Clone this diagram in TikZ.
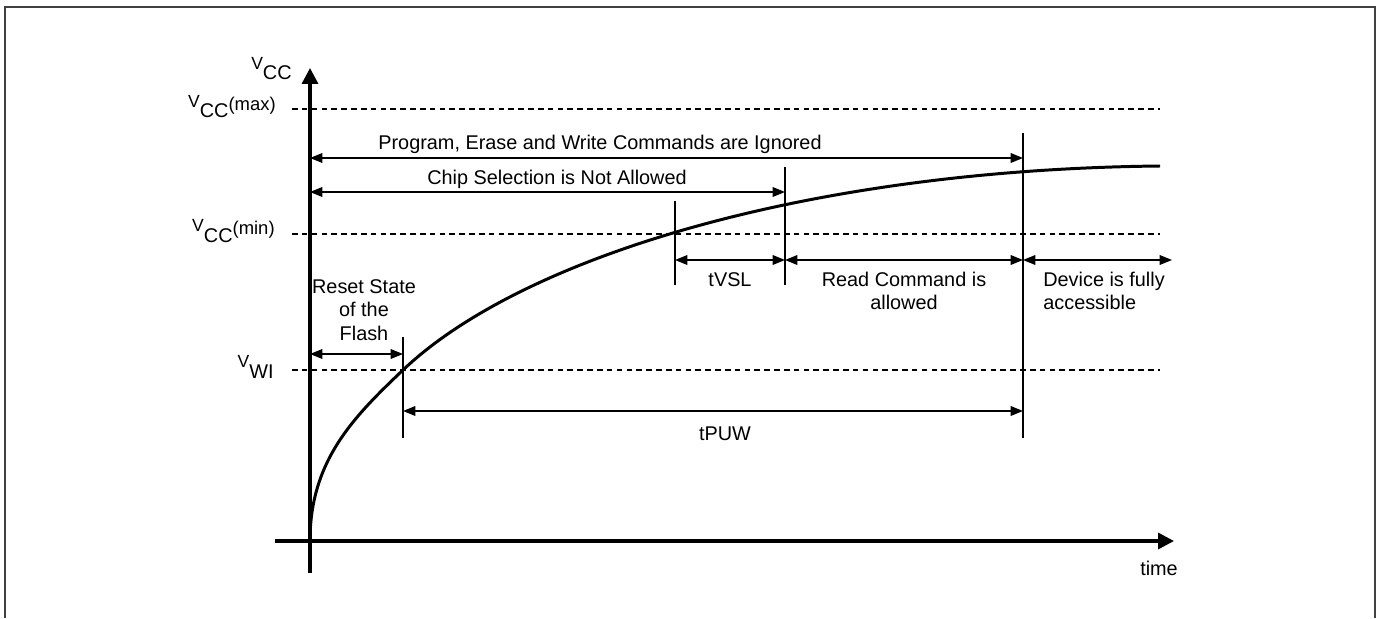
\documentclass[tikz,border=0pt]{standalone}
\usepackage{fontspec}
\setmainfont{Liberation Sans}
\usetikzlibrary{arrows.meta,positioning}

\newcommand{\volt}[2]{\raisebox{6.2pt}{\fontsize{10}{10}\selectfont V}#1\raisebox{4.5pt}{\fontsize{10.5}{11}\selectfont #2}}

\begin{document}
\begin{tikzpicture}[x=0.02cm,y=-0.02cm,>={Triangle[length=7pt,width=5.5pt]},
  every node/.style={font=\fontsize{11.3}{13.4}\selectfont,inner sep=0pt},
  axis/.style={line width=1.9pt,-{Triangle[length=9pt,width=9pt]}},
  level/.style={line width=0.6pt,dash pattern=on 3.2pt off 2.4pt},
  span/.style={<->,line width=0.7pt},
  marker/.style={line width=0.7pt}]
  \useasboundingbox (0,0) rectangle (1381,618);
  \draw[line width=0.9pt,black!75] (5,618) -- (5,7) -- (1375,7) -- (1375,618);

  % axes
  \coordinate (o) at (310,541);
  \coordinate (ybot) at (310,573);
  \coordinate (ytop) at (310,68);
  \coordinate (xl) at (275,541);
  \coordinate (xr) at (1174,541);
  \draw[axis] (ybot) -- (ytop);
  \draw[axis] (xl) -- (xr);
  \node[anchor=base] (time) at (1159,575) {time};

  % voltage levels
  \foreach \n/\y in {max/109,min/234,wi/370} {
    \coordinate (\n-l) at (292,\y);
    \coordinate (\n-r) at (1160,\y);
    \draw[level] (\n-l) -- (\n-r);
  }
  \node[anchor=base east] (vcc) at (292,80) {\volt{CC}{}};
  \node[anchor=base east] (vmax) at (276,118) {\volt{CC}{(max)}};
  \node[anchor=base east] (vmin) at (275,242) {\volt{CC}{(min)}};
  \node[anchor=base east] (vwi) at (274,378) {\volt{WI}{}};

  % markers
  \foreach \n/\x/\a/\b in {pw/403/337/438,vs/675/201/285,cs/785/167/285,pu/1023/133/438} {
    \coordinate (\n-t) at (\x,\a);
    \coordinate (\n-b) at (\x,\b);
    \draw[marker] (\n-t) -- (\n-b);
  }

  % spans
  \coordinate (prog-l) at (310,158);
  \coordinate (prog-r) at (1023,158);
  \coordinate (chip-l) at (310,192);
  \coordinate (chip-r) at (785,192);
  \coordinate (reset-l) at (310,354);
  \coordinate (reset-r) at (403,354);
  \coordinate (row-a) at (675,260);
  \coordinate (row-b) at (785,260);
  \coordinate (row-c) at (1023,260);
  \coordinate (row-d) at (1172,260);
  \coordinate (tpuw-l) at (403,411);
  \coordinate (tpuw-r) at (1023,411);
  \draw[span] (prog-l) -- (prog-r);
  \draw[span] (chip-l) -- (chip-r);
  \draw[span] (reset-l) -- (reset-r);
  \draw[span] (row-a) -- (row-b);
  \draw[span] (row-b) -- (row-c);
  \draw[span] (row-c) -- (row-d);
  \draw[span] (tpuw-l) -- (tpuw-r);

  \node[anchor=base] (prog) at (600,150) {Program, Erase and Write Commands are Ignored};
  \node[anchor=base] (chip) at (557,185) {Chip Selection is Not Allowed};
  \node[align=center] (reset) at (364,310) {Reset State\\of the\\Flash};
  \node[anchor=base] (tvsl) at (730,286) {tVSL};
  \node[align=center] (read) at (904,291) {Read Command is\\allowed};
  \node[align=left,anchor=west] (dev) at (1043,291) {Device is fully\\accessible};
  \node[anchor=base] (tpuw) at (725,440) {tPUW};

  % supply curve
  \coordinate (cross) at (403,370);
  \coordinate (top) at (1160,166);
  \draw[line width=1.7pt] (o) .. controls (310,461) and (353,417.5) .. (cross)
    .. controls (523,256) and (810,169.5) .. (top);
\end{tikzpicture}
\end{document}
